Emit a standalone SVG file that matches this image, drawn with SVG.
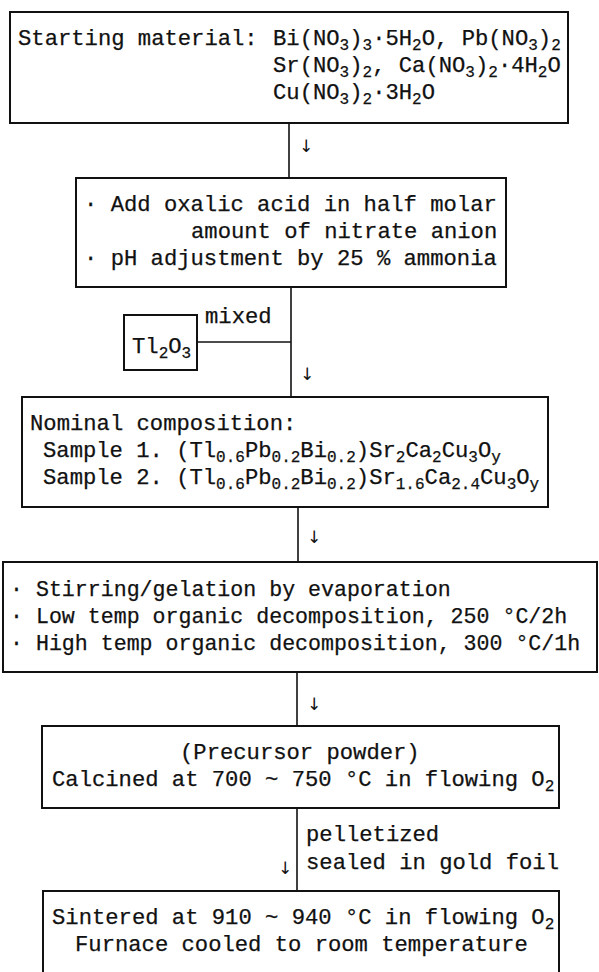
<svg xmlns="http://www.w3.org/2000/svg" width="599" height="972" viewBox="0 0 599 972">
<style>
.box{fill:none;stroke:#111;stroke-width:2}
.t{font-family:"Liberation Mono","Courier New",monospace;font-size:22.2px;fill:#111;stroke:#111;stroke-width:0.25}
.n{font-size:21.6px}
.s{font-size:16px}
.c{stroke:#111;stroke-width:1.6;fill:none}
.ar{font-family:"DejaVu Sans",sans-serif;font-size:17px;fill:#111}
</style>
<rect width="599" height="972" fill="#fff"/>
<g id="connectors">
<line class="c" x1="289" y1="123" x2="289" y2="178"/>
<text class="ar" x="299" y="152">↓</text>
<line class="c" x1="291" y1="287" x2="291" y2="397"/>
<line class="c" x1="197" y1="342" x2="291" y2="342"/>
<text class="t" x="205" y="323">mixed</text>
<text class="ar" x="300" y="380">↓</text>
<line class="c" x1="298" y1="507" x2="298" y2="562"/>
<text class="ar" x="307" y="543">↓</text>
<line class="c" x1="297" y1="672" x2="297" y2="726"/>
<text class="ar" x="307" y="710">↓</text>
<line class="c" x1="297" y1="808" x2="297" y2="891"/>
<text class="ar" x="278" y="874">↓</text>
<text class="t" x="306" y="841">pelletized</text>
<text class="t" x="306" y="869">sealed in gold foil</text>
</g>
<g id="start">
<rect class="box" x="10" y="12" width="558" height="111"/>
<text class="t" x="18" y="45">Starting material:</text>
<text class="t" x="273" y="45">Bi(NO<tspan class="s" dy="5">3</tspan><tspan dy="-5">)</tspan><tspan class="s" dy="5">3</tspan><tspan dy="-5">·5H</tspan><tspan class="s" dy="5">2</tspan><tspan dy="-5">O, Pb(NO</tspan><tspan class="s" dy="5">3</tspan><tspan dy="-5">)</tspan><tspan class="s" dy="5">2</tspan></text>
<text class="t" x="273" y="72">Sr(NO<tspan class="s" dy="5">3</tspan><tspan dy="-5">)</tspan><tspan class="s" dy="5">2</tspan><tspan dy="-5">, Ca(NO</tspan><tspan class="s" dy="5">3</tspan><tspan dy="-5">)</tspan><tspan class="s" dy="5">2</tspan><tspan dy="-5">·4H</tspan><tspan class="s" dy="5">2</tspan><tspan dy="-5">O</tspan></text>
<text class="t" x="273" y="99">Cu(NO<tspan class="s" dy="5">3</tspan><tspan dy="-5">)</tspan><tspan class="s" dy="5">2</tspan><tspan dy="-5">·3H</tspan><tspan class="s" dy="5">2</tspan><tspan dy="-5">O</tspan></text>
</g>
<g id="oxalic">
<rect class="box" x="76" y="178" width="430" height="109"/>
<text class="t" x="84" y="211">· Add oxalic acid in half molar</text>
<text class="t" x="191" y="238">amount of nitrate anion</text>
<text class="t" x="84" y="265">· pH adjustment by 25 % ammonia</text>
</g>
<g id="tl2o3">
<rect class="box" x="124" y="315" width="73" height="55"/>
<text class="t" x="132" y="353">Tl<tspan class="s" dy="5">2</tspan><tspan dy="-5">O</tspan><tspan class="s" dy="5">3</tspan></text>
</g>
<g id="composition">
<rect class="box" x="22" y="397" width="526" height="110"/>
<text class="t" x="30" y="430">Nominal composition:</text>
<text class="t" x="43" y="457">Sample 1. (Tl<tspan class="s" dy="5">0.6</tspan><tspan dy="-5">Pb</tspan><tspan class="s" dy="5">0.2</tspan><tspan dy="-5">Bi</tspan><tspan class="s" dy="5">0.2</tspan><tspan dy="-5">)Sr</tspan><tspan class="s" dy="5">2</tspan><tspan dy="-5">Ca</tspan><tspan class="s" dy="5">2</tspan><tspan dy="-5">Cu</tspan><tspan class="s" dy="5">3</tspan><tspan dy="-5">O</tspan><tspan class="s" dy="5">y</tspan></text>
<text class="t" x="43" y="484">Sample 2. (Tl<tspan class="s" dy="5">0.6</tspan><tspan dy="-5">Pb</tspan><tspan class="s" dy="5">0.2</tspan><tspan dy="-5">Bi</tspan><tspan class="s" dy="5">0.2</tspan><tspan dy="-5">)Sr</tspan><tspan class="s" dy="5">1.6</tspan><tspan dy="-5">Ca</tspan><tspan class="s" dy="5">2.4</tspan><tspan dy="-5">Cu</tspan><tspan class="s" dy="5">3</tspan><tspan dy="-5">O</tspan><tspan class="s" dy="5">y</tspan></text>
</g>
<g id="stirring">
<rect class="box" x="3" y="562" width="594" height="110"/>
<text class="t n" x="10" y="596">· Stirring/gelation by evaporation</text>
<text class="t n" x="10" y="623">· Low temp organic decomposition, 250 °C/2h</text>
<text class="t n" x="10" y="650">· High temp organic decomposition, 300 °C/1h</text>
</g>
<g id="precursor">
<rect class="box" x="42" y="726" width="517" height="82"/>
<text class="t" x="180" y="759">(Precursor powder)</text>
<text class="t" x="52" y="786">Calcined at 700 ~ 750 °C in flowing O<tspan class="s" dy="5">2</tspan></text>
</g>
<g id="sintered">
<rect class="box" x="43" y="891" width="516" height="95"/>
<text class="t" x="52" y="924">Sintered at 910 ~ 940 °C in flowing O<tspan class="s" dy="5">2</tspan></text>
<text class="t" x="75" y="951">Furnace cooled to room temperature</text>
</g>
</svg>
